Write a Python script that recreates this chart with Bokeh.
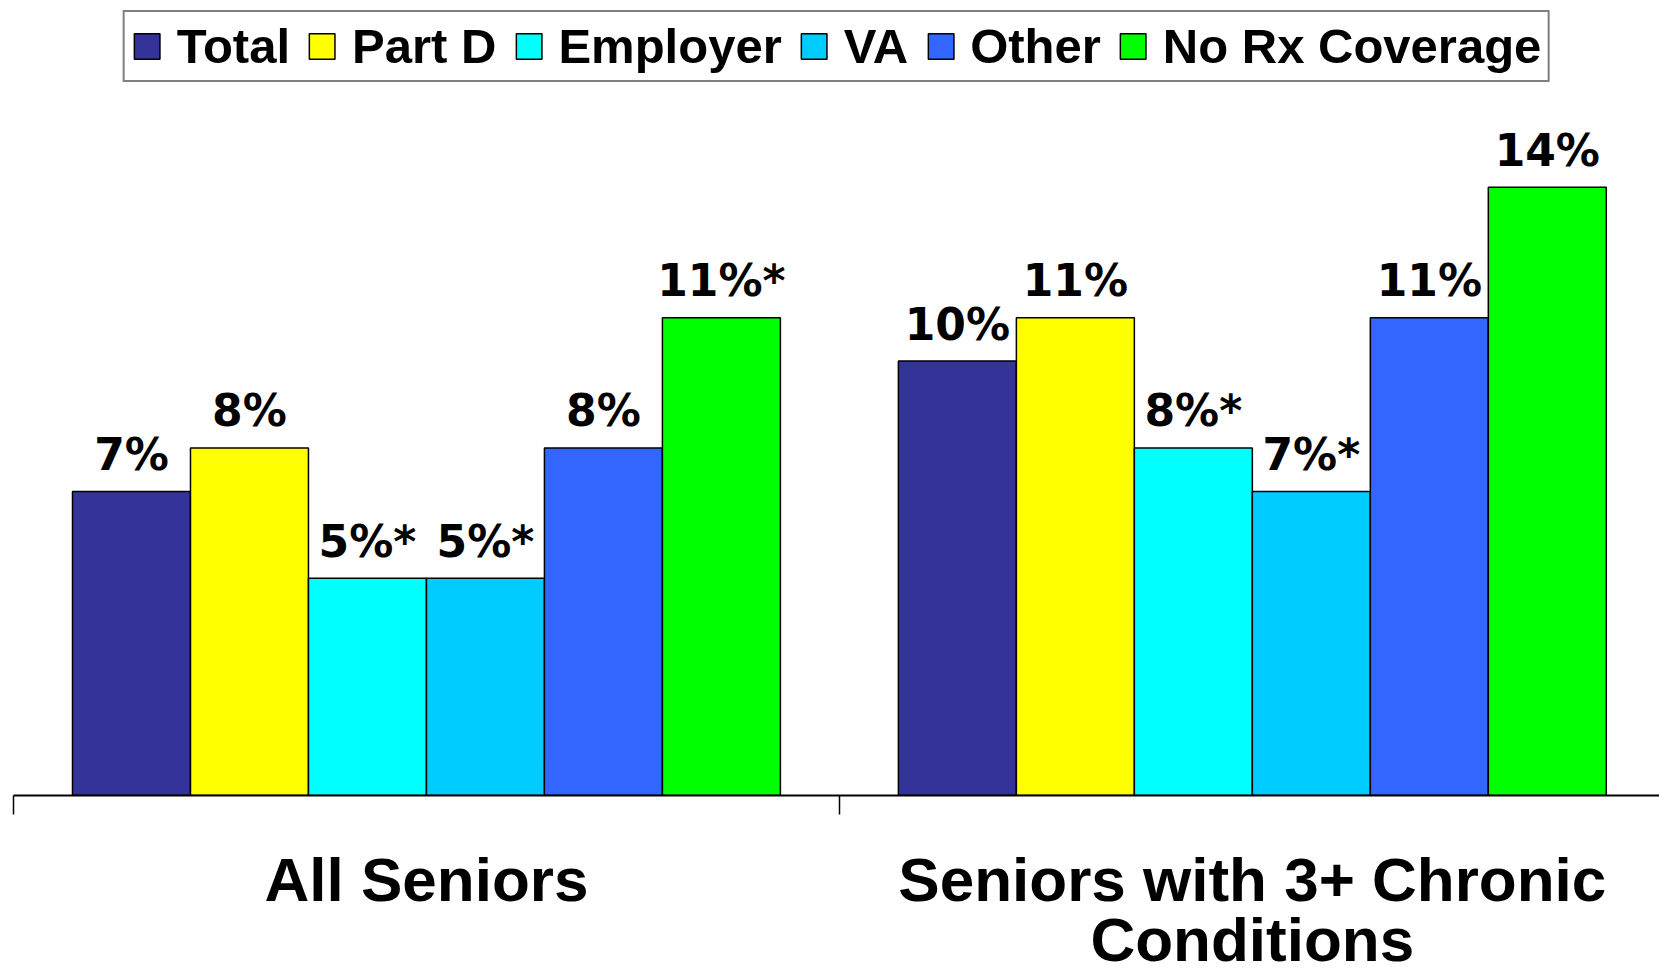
from bokeh.plotting import figure
from bokeh.models import Range1d, FixedTicker, LinearAxis, Legend, LegendItem, ColumnDataSource
from bokeh.core.properties import value
from bokeh.embed import file_html
from bokeh.resources import INLINE

groups = ["All Seniors", "Seniors with 3+ Chronic", "Conditions"]
series = ["Total", "Part D", "Employer", "VA", "Other", "No Rx Coverage"]
colors = ["#333399", "#FFFF00", "#00FFFF", "#00CCFF", "#3366FF", "#00FF00"]
all_seniors = [7, 8, 5, 5, 8, 11]
chronic = [10, 11, 8, 7, 11, 14]
all_labels = ["7%", "8%", "5%*", "5%*", "8%", "11%*"]
chronic_labels = ["10%", "11%", "8%*", "7%*", "11%", "14%"]

values_by_group = [all_seniors, chronic]
labels_by_group = [all_labels, chronic_labels]

n = len(series)
bar_w = 1.0 / (n + 1)

p = figure(width=1659, height=976, output_backend="svg", toolbar_location=None,
           x_range=Range1d(0, 1.993), y_range=Range1d(0, 18.3),
           x_axis_location=None, y_axis_location=None,
           min_border_left=13, min_border_right=0, min_border_top=0, min_border_bottom=0)
p.outline_line_color = None
p.xgrid.visible = False
p.ygrid.visible = False

items = []
for si, name in enumerate(series):
    xs = [gi + 0.5 + (si - (n - 1) / 2) * bar_w for gi in range(2)]
    ys = [values_by_group[gi][si] for gi in range(2)]
    labs = [labels_by_group[gi][si] for gi in range(2)]
    src = ColumnDataSource(dict(x=xs, top=ys, lab=labs))
    r = p.vbar(x="x", top="top", bottom=0, width=bar_w, source=src,
               fill_color=colors[si], line_color="black", line_width=1.5)
    p.text(x="x", y="top", text="lab", source=src, text_align="center",
           text_baseline="alphabetic", y_offset=-37,
           text_font=value("DejaVu Sans"), text_font_style="bold",
           text_font_size="44px", text_color="black")
    items.append(LegendItem(label=name, renderers=[r]))

legend = Legend(items=items, orientation="horizontal", location="top_center",
                border_line_color="black", border_line_width=2,
                background_fill_color="white", background_fill_alpha=1,
                label_text_font="Liberation Sans", label_text_font_style="bold",
                label_text_font_size="49px", label_text_color="black",
                glyph_width=32, glyph_height=32,
                label_standoff=14, spacing=16, padding=6, margin=10)
p.add_layout(legend)

ax1 = LinearAxis(ticker=FixedTicker(ticks=[0, 1, 2]),
                 major_label_overrides={0: "", 1: "", 2: ""},
                 major_tick_out=19, major_tick_in=0, major_tick_line_width=1.5,
                 axis_line_width=2, minor_tick_line_color=None, major_label_standoff=0)
p.add_layout(ax1, "below")

label_style = dict(axis_line_color=None, major_tick_line_color=None, minor_tick_line_color=None,
                   major_label_text_font="Liberation Sans", major_label_text_font_style="bold",
                   major_label_text_font_size="62px", major_label_text_color="black")

ax2 = LinearAxis(ticker=FixedTicker(ticks=[0.5, 1.5]),
                 major_label_overrides={0.5: groups[0], 1.5: groups[1]},
                 major_label_standoff=24, **label_style)
p.add_layout(ax2, "below")

ax3 = LinearAxis(ticker=FixedTicker(ticks=[1.5]),
                 major_label_overrides={1.5: groups[2]},
                 major_label_standoff=-18, **label_style)
p.add_layout(ax3, "below")

open("out.html", "w").write(file_html(p, INLINE))
